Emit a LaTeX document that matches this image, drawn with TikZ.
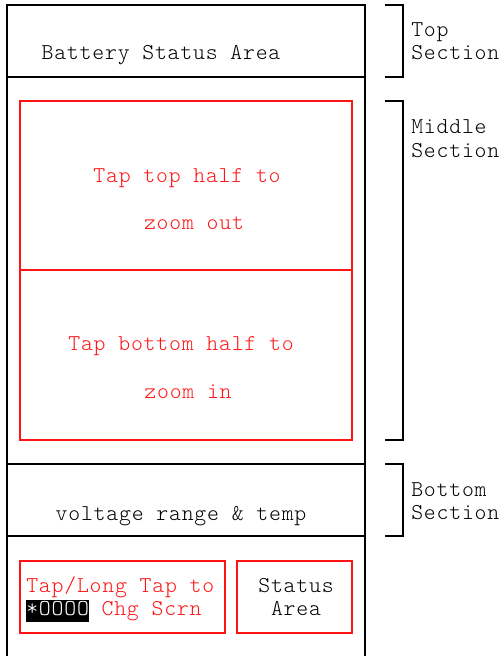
\documentclass[tikz,border=0pt]{standalone}
\usepackage{fontspec}
\setmainfont{Latin Modern Mono Light}[LetterSpace=3.5]
\definecolor{tred}{RGB}{255,20,20}
\begin{document}
\begin{tikzpicture}[x=0.75pt,y=-0.75pt,
  frame/.style={draw=black,line width=1.1pt},
  redbox/.style={draw=tred,line width=1.1pt},
  brk/.style={draw=black,line width=1.1pt},
  txt/.style={inner sep=0pt,anchor=base,font=\fontsize{17}{20}\selectfont,text=black},
  rtxt/.style={txt,text=tred},
  lbl/.style={txt,anchor=base west}]
\useasboundingbox (0,0) rectangle (502,656);
% outer frame
\draw[frame] (7,656) -- (7,5) -- (365,5) -- (365,656);
\draw[frame] (7,77) -- (365,77);
\draw[frame] (7,464) -- (365,464);
\draw[frame] (7,536) -- (365,536);
% red boxes
\draw[redbox] (20,101) rectangle (352,440);
\draw[redbox] (20,270) -- (352,270);
\draw[redbox] (20,561) rectangle (225,633);
\draw[redbox] (237,561) rectangle (352,633);
% brackets
\draw[brk] (385,5) -- (403,5) -- (403,77) -- (385,77);
\draw[brk] (385,101) -- (403,101) -- (403,440) -- (385,440);
\draw[brk] (385,464) -- (403,464) -- (403,536) -- (385,536);
% texts
\node[txt] (bsa) at (161,60) {Battery Status Area};
\node[rtxt] (tt1) at (187,182) {Tap top half to};
\node[rtxt] (tt2) at (194,229) {zoom out};
\node[rtxt] (tb1) at (181,350) {Tap bottom half to};
\node[rtxt] (tb2) at (188,398) {zoom in};
\node[txt] (vr) at (181,520) {voltage range \& temp};
\node[lbl,text=tred] (tl1) at (26,592) {Tap/Long Tap to};
\node[lbl,text=tred] (tl2) at (26,615) {{\setlength\fboxsep{0pt}\colorbox{black}{\rule[-5pt]{0pt}{16.5pt}\textcolor{white}{*OOOO}}} Chg Scrn};
\node[txt] (sa1) at (296,592) {Status};
\node[txt] (sa2) at (296,615) {Area};
\node[lbl] (l1) at (411,37) {Top};
\node[lbl] (l2) at (411,60) {Section};
\node[lbl] (l3) at (411,133) {Middle};
\node[lbl] (l4) at (411,157) {Section};
\node[lbl] (l5) at (411,496) {Bottom};
\node[lbl] (l6) at (411,519) {Section};
\end{tikzpicture}
\end{document}
